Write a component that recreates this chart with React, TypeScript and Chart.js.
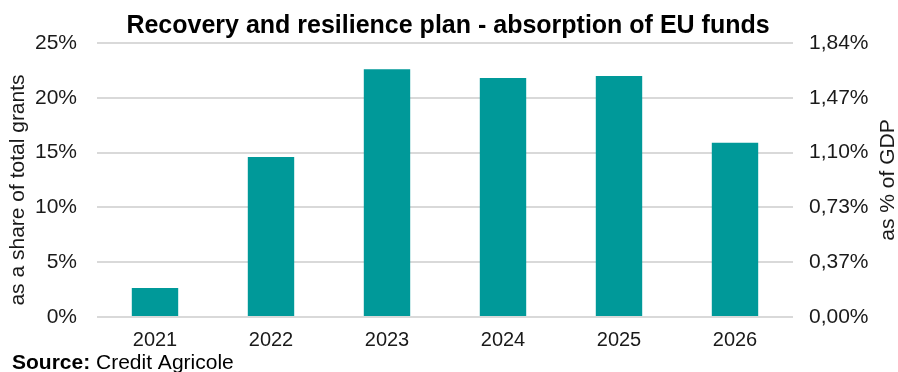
import React, { useEffect, useRef } from "react";
import { Chart, registerables } from "chart.js";

Chart.register(...registerables);

const titleText = "Recovery and resilience plan - absorption of EU funds";
const categories = ["2021", "2022", "2023", "2024", "2025", "2026"];
const shareOfGrants = [2.65, 14.6, 22.6, 21.8, 22.0, 15.9];
const leftTickMax = 25;
const leftTickStep = 5;
const rightTickLabels = ["0,00%", "0,37%", "0,73%", "1,10%", "1,47%", "1,84%"];
const leftAxisTitle = "as a share of total grants";
const rightAxisTitle = "as % of GDP";
const sourceLabel = "Source:";
const sourceText = "Credit Agricole";

const FONT = "'Liberation Sans', Arial, sans-serif";
const TEXT = "#1a1a1a";

const textPlugin = {
  id: "extraText",
  afterDraw(chart: any) {
    const ctx = chart.ctx;
    const area = chart.chartArea;
    ctx.save();
    ctx.fillStyle = "#000";
    // Title
    ctx.font = `bold 25px ${FONT}`;
    ctx.textAlign = "center";
    ctx.textBaseline = "alphabetic";
    ctx.fillText(titleText, 448, 33);
    // Left axis title
    ctx.fillStyle = TEXT;
    ctx.font = `21px ${FONT}`;
    ctx.textBaseline = "middle";
    ctx.save();
    ctx.translate(18, (area.top + area.bottom) / 2 + 10);
    ctx.rotate(-Math.PI / 2);
    ctx.fillText(leftAxisTitle, 0, 0);
    ctx.restore();
    // Right axis title
    ctx.save();
    ctx.translate(chart.width - 10, (area.top + area.bottom) / 2);
    ctx.rotate(-Math.PI / 2);
    ctx.fillText(rightAxisTitle, 0, 0);
    ctx.restore();
    // Source
    ctx.textAlign = "left";
    ctx.textBaseline = "alphabetic";
    ctx.fillStyle = "#000";
    ctx.font = `bold 21px ${FONT}`;
    ctx.fillText(sourceLabel, 12, 369);
    const w = ctx.measureText(sourceLabel + " ").width;
    ctx.font = `21px ${FONT}`;
    ctx.fillText(sourceText, 12 + w, 369);
    ctx.restore();
  },
};

export default function App() {
  const ref = useRef<HTMLCanvasElement>(null);
  useEffect(() => {
    if (!ref.current) return;
    const chart = new Chart(ref.current, {
      type: "bar",
      data: {
        labels: categories,
        datasets: [
          {
            data: shareOfGrants,
            backgroundColor: "#009999",
            borderWidth: 0,
            barPercentage: 0.4,
            categoryPercentage: 1,
            yAxisID: "y",
          },
        ],
      },
      options: {
        responsive: false,
        animation: false,
        maintainAspectRatio: false,
        layout: { padding: { top: 43, left: 0, right: 0, bottom: 0 } },
        plugins: {
          legend: { display: false },
          title: { display: false },
          tooltip: { enabled: false },
        },
        scales: {
          x: {
            grid: { display: false, drawTicks: false },
            border: { display: false },
            ticks: {
              color: TEXT,
              font: { family: FONT, size: 20 },
              padding: 11,
            },
            afterFit(scale: any) {
              scale.height = 55;
            },
          },
          y: {
            position: "left",
            min: 0,
            max: leftTickMax,
            grid: { color: "#d9d9d9", lineWidth: 2, drawTicks: false },
            border: { display: false },
            ticks: {
              stepSize: leftTickStep,
              color: TEXT,
              font: { family: FONT, size: 21 },
              padding: 20,
              callback: (v: any) => `${v}%`,
            },
            afterFit(scale: any) {
              scale.width = 97;
            },
          },
          y2: {
            position: "right",
            min: 0,
            max: leftTickMax,
            grid: { display: false, drawTicks: false },
            border: { display: false },
            ticks: {
              stepSize: leftTickStep,
              color: TEXT,
              font: { family: FONT, size: 21 },
              padding: 16,
              callback: (_v: any, i: number) => rightTickLabels[i],
            },
            afterFit(scale: any) {
              scale.width = 105;
            },
          },
        },
      },
      plugins: [textPlugin],
    });
    return () => chart.destroy();
  }, []);
  return (
    <div style={{ position: "fixed", left: 0, top: 0, width: 898, height: 372, background: "#fff" }}>
      <canvas ref={ref} width={898} height={372} style={{ width: 898, height: 372 }} />
    </div>
  );
}
